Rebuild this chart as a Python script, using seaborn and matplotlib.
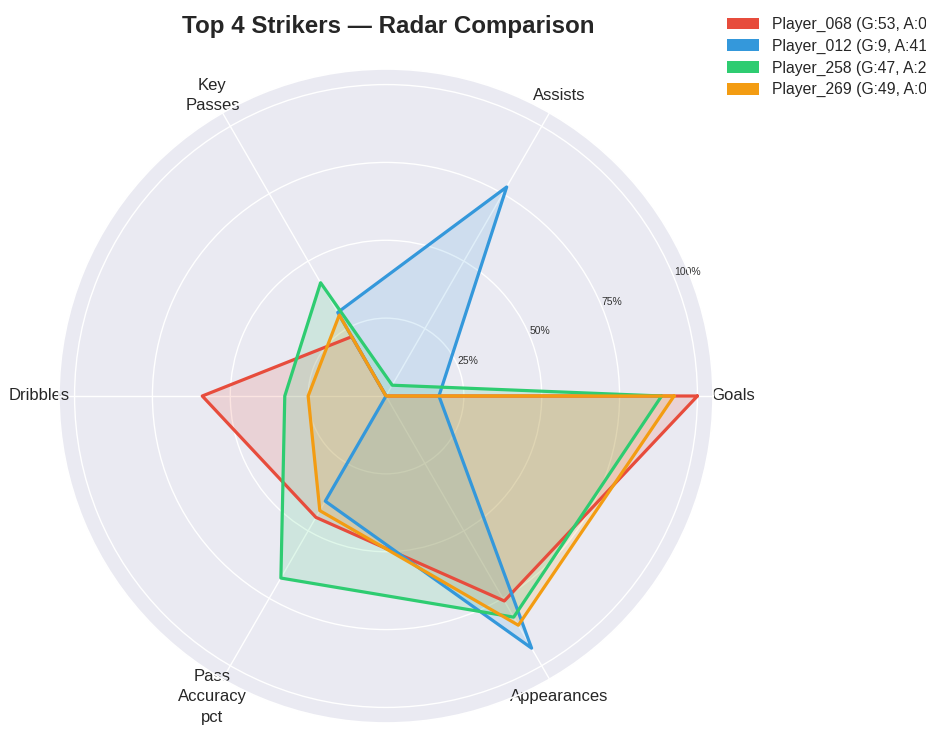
import numpy as np
import pandas as pd
import matplotlib
matplotlib.use("Agg")
import matplotlib.pyplot as plt
from matplotlib.patches import Patch
import seaborn as sns

# ---- data ----
categories = ["Goals", "Assists", "Key\nPasses", "Dribbles", "Pass\nAccuracy\npct", "Appearances"]
players = ["Player_068", "Player_012", "Player_258", "Player_269"]
goals = [53, 9, 47, 49]
assists = [0, 41, 2, 0]
p068 = [1.00, 0.00, 0.22, 0.59, 0.45, 0.76]
p012 = [0.17, 0.775, 0.31, 0.00, 0.39, 0.935]
p258 = [0.885, 0.04, 0.42, 0.325, 0.675, 0.82]
p269 = [0.925, 0.00, 0.30, 0.25, 0.425, 0.85]
series = [p068, p012, p258, p269]
colors = ["#e74c3c", "#3498db", "#2ecc71", "#f39c12"]
rticks = [0.25, 0.50, 0.75, 1.00]
rtick_labels = ["25%", "50%", "75%", "100%"]

sns.set_theme(style="darkgrid")
plt.rcParams["font.family"] = ["Liberation Sans", "DejaVu Sans"]

fig = plt.figure(figsize=(9.26, 7.32), dpi=100)
ax = fig.add_axes([59 / 926, 9 / 732, 654 / 926, 654 / 732], projection="polar")

n = len(categories)
angles = np.linspace(0, 2 * np.pi, n, endpoint=False)
theta_closed = np.concatenate([angles, [2 * np.pi]])

for name, vals, c in zip(players, series, colors):
    v = list(vals) + [vals[0]]
    df = pd.DataFrame({"theta": theta_closed, "value": v})
    sns.lineplot(data=df, x="theta", y="value", sort=False, color=c,
                 linewidth=2.3, ax=ax, legend=False, estimator=None)
    ax.fill(theta_closed, v, color=c, alpha=0.15, linewidth=0)

ax.set_xlabel("")
ax.set_ylabel("")
ax.set_xticks(angles)
ax.set_xticklabels(categories, fontsize=12, color="#262626")
for t in ax.get_xticklabels():
    t.set_linespacing(1.45)
ax.tick_params(axis="x", pad=1.5)
ax.set_ylim(0, 1.05)
ax.set_yticks(rticks)
ax.set_yticklabels(rtick_labels, fontsize=7.5, color="#333333")
ax.set_rlabel_position(22.5)

fig.text(388 / 926, 1 - 26 / 732, "Top 4 Strikers \u2014 Radar Comparison",
         ha="center", va="center", fontsize=17.4, fontweight="bold", color="#262626")

handles = [Patch(facecolor=c, edgecolor="none") for c in colors]
labels = [f"{p} (G:{g}, A:{a})" for p, g, a in zip(players, goals, assists)]
fig.legend(handles, labels, loc="upper left", bbox_to_anchor=(727 / 926, 1 - 17 / 732),
           frameon=False, borderpad=0, borderaxespad=0, fontsize=11.3,
           handlelength=2.05, handleheight=0.77, handletextpad=0.8, labelspacing=0.42)

fig.savefig("out.png", dpi=100)
